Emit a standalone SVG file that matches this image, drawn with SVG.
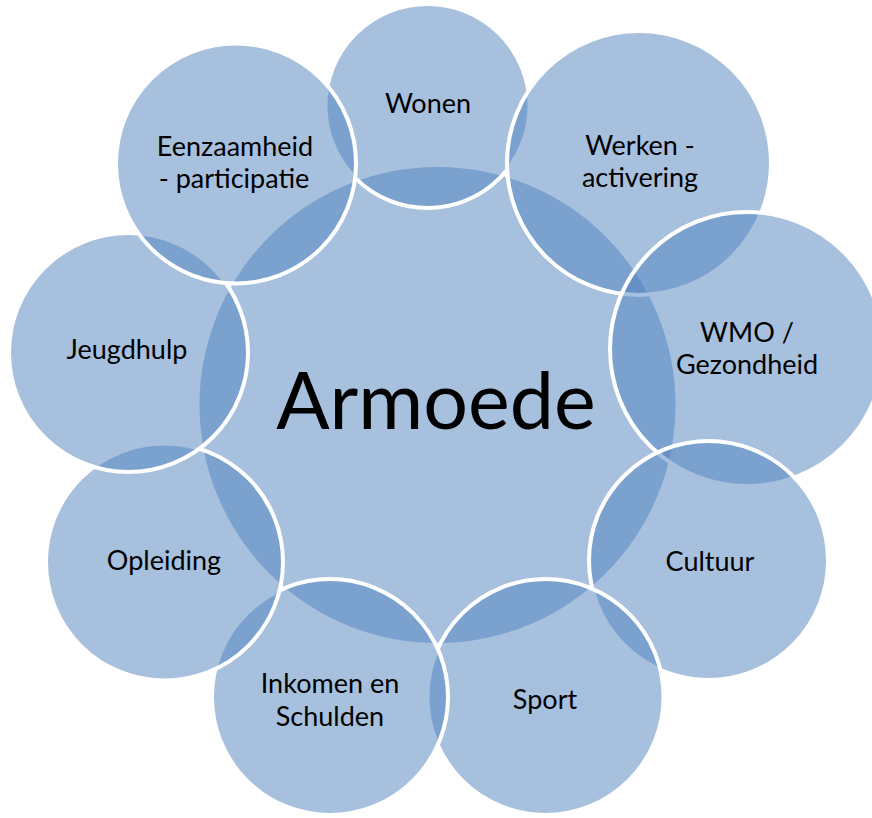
<svg xmlns="http://www.w3.org/2000/svg" width="872" height="818" viewBox="0 0 872 818">
<style>
.c{fill:#4F81BD;fill-opacity:0.5;stroke:#FFFFFF;stroke-width:4}
.t{font-family:Lato,"Liberation Sans",sans-serif;font-size:27px;fill:#000;text-anchor:middle}
.big{font-family:Lato,"Liberation Sans",sans-serif;font-size:79px;fill:#000;text-anchor:middle}
</style>
<rect width="872" height="818" fill="#FFFFFF"/>
<g id="armoede"><circle class="c" cx="437.5" cy="405" r="238" style="stroke:none"/><text class="big" x="436" y="429">Armoede</text></g>
<g id="wonen"><circle class="c" cx="427.5" cy="106" r="102"/><text class="t" x="428" y="113">Wonen</text></g>
<g id="werken"><circle class="c" cx="639" cy="163" r="132"/><text class="t" x="640" y="155">Werken -</text><text class="t" x="640" y="187">activering</text></g>
<g id="wmo"><circle class="c" cx="747" cy="349" r="137"/><text class="t" x="747" y="342">WMO /</text><text class="t" x="747" y="374">Gezondheid</text></g>
<g id="cultuur"><circle class="c" cx="708.5" cy="560.5" r="119.5"/><text class="t" x="710" y="571">Cultuur</text></g>
<g id="sport"><circle class="c" cx="545.5" cy="697" r="118"/><text class="t" x="545" y="709">Sport</text></g>
<g id="inkomen"><circle class="c" cx="330" cy="697" r="118"/><text class="t" x="330" y="693">Inkomen en</text><text class="t" x="330" y="726">Schulden</text></g>
<g id="opleiding"><circle class="c" cx="164.5" cy="562" r="118.5"/><text class="t" x="164" y="570">Opleiding</text></g>
<g id="jeugdhulp"><circle class="c" cx="128.5" cy="352.5" r="119.5"/><text class="t" x="127" y="359">Jeugdhulp</text></g>
<g id="eenzaamheid"><circle class="c" cx="236" cy="163.5" r="120"/><text class="t" x="235" y="156">Eenzaamheid</text><text class="t" x="234" y="188">- participatie</text></g>
<g id="connectors"></g>
</svg>
